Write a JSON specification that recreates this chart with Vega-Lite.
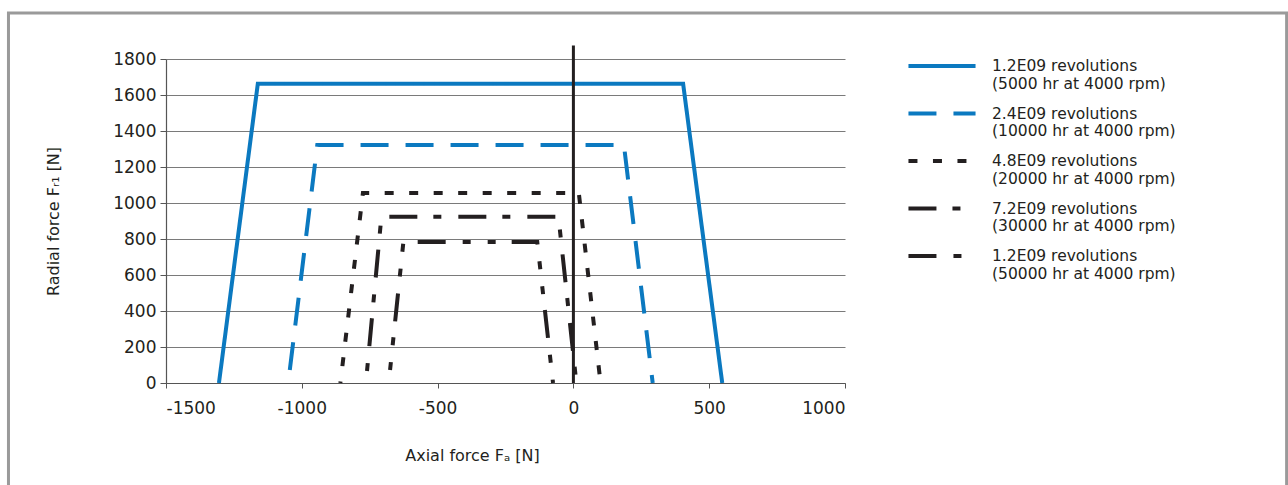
{
  "$schema": "https://vega.github.io/schema/vega-lite/v6.json",
  "width": 679,
  "height": 324,
  "autosize": {"type": "none"},
  "padding": {"left": 166, "top": 59, "right": 443, "bottom": 102},
  "background": "#ffffff",
  "config": {
    "view": {"stroke": null},
    "font": "DejaVu Sans",
    "axis": {
      "labelFont": "DejaVu Sans",
      "titleFont": "DejaVu Sans",
      "labelColor": "#231f20",
      "titleColor": "#231f20",
      "titleFontWeight": "normal",
      "domainColor": "#555555",
      "tickColor": "#555555",
      "gridColor": "#7a7a7a",
      "gridWidth": 1,
      "domainWidth": 1.2
    },
    "legend": {
      "orient": "none",
      "legendX": 740,
      "legendY": -13,
      "padding": 0,
      "symbolType": "stroke",
      "symbolSize": 4500,
      "symbolStrokeWidth": 4,
      "labelFont": "DejaVu Sans",
      "labelFontSize": 15.5,
      "labelLineHeight": 20.5,
      "labelColor": "#231f20",
      "labelOffset": 14,
      "labelLimit": 400,
      "clipHeight": 40,
      "rowPadding": 1.5
    }
  },
  "resolve": {"axis": {"x": "independent", "y": "independent"}},
  "datasets": {
    "curves": [
      {"series": "1.2E09 revolutions\n(5000 hr at 4000 rpm)", "pt": 1, "axial": -1305, "radial": 0},
      {"series": "1.2E09 revolutions\n(5000 hr at 4000 rpm)", "pt": 2, "axial": -1162, "radial": 1662},
      {"series": "1.2E09 revolutions\n(5000 hr at 4000 rpm)", "pt": 3, "axial": 404, "radial": 1662},
      {"series": "1.2E09 revolutions\n(5000 hr at 4000 rpm)", "pt": 4, "axial": 548, "radial": 0},
      {"series": "2.4E09 revolutions\n(10000 hr at 4000 rpm)", "pt": 1, "axial": -1050, "radial": 0},
      {"series": "2.4E09 revolutions\n(10000 hr at 4000 rpm)", "pt": 2, "axial": -943, "radial": 1322},
      {"series": "2.4E09 revolutions\n(10000 hr at 4000 rpm)", "pt": 3, "axial": 186, "radial": 1322},
      {"series": "2.4E09 revolutions\n(10000 hr at 4000 rpm)", "pt": 4, "axial": 292, "radial": 0},
      {"series": "4.8E09 revolutions\n(20000 hr at 4000 rpm)", "pt": 1, "axial": -858, "radial": 0},
      {"series": "4.8E09 revolutions\n(20000 hr at 4000 rpm)", "pt": 2, "axial": -775, "radial": 1055},
      {"series": "4.8E09 revolutions\n(20000 hr at 4000 rpm)", "pt": 3, "axial": 20, "radial": 1055},
      {"series": "4.8E09 revolutions\n(20000 hr at 4000 rpm)", "pt": 4, "axial": 100, "radial": 0},
      {"series": "7.2E09 revolutions\n(30000 hr at 4000 rpm)", "pt": 1, "axial": -764, "radial": 0},
      {"series": "7.2E09 revolutions\n(30000 hr at 4000 rpm)", "pt": 2, "axial": -707, "radial": 924},
      {"series": "7.2E09 revolutions\n(30000 hr at 4000 rpm)", "pt": 3, "axial": -55, "radial": 924},
      {"series": "7.2E09 revolutions\n(30000 hr at 4000 rpm)", "pt": 4, "axial": 11, "radial": 0},
      {"series": "1.2E09 revolutions\n(50000 hr at 4000 rpm)", "pt": 1, "axial": -680, "radial": 0},
      {"series": "1.2E09 revolutions\n(50000 hr at 4000 rpm)", "pt": 2, "axial": -626, "radial": 783},
      {"series": "1.2E09 revolutions\n(50000 hr at 4000 rpm)", "pt": 3, "axial": -133, "radial": 783},
      {"series": "1.2E09 revolutions\n(50000 hr at 4000 rpm)", "pt": 4, "axial": -75, "radial": 0}
    ]
  },
  "layer": [
    {
      "data": {"name": "curves"},
      "mark": {"type": "line", "strokeWidth": 4, "strokeCap": "butt", "strokeJoin": "miter", "strokeDashOffset": 32},
      "encoding": {
        "x": {
          "field": "axial", "type": "quantitative",
          "scale": {"domain": [-1500, 1000], "nice": false, "zero": false},
          "axis": {
            "values": [-1500, -1000, -500, 0, 500, 1000],
            "title": "Axial force Fₐ [N]",
            "titleFontSize": 16,
            "titleX": 306,
            "titleY": 64,
            "titleBaseline": "top",
            "labelFontSize": 17,
            "labelPadding": 12,
            "tickSize": 5,
            "grid": false,
            "labelExpr": "'' + datum.value"
          }
        },
        "y": {
          "field": "radial", "type": "quantitative",
          "scale": {"domain": [0, 1800], "nice": false, "zero": false},
          "axis": {
            "values": [0, 200, 400, 600, 800, 1000, 1200, 1400, 1600, 1800],
            "format": "d",
            "title": "Radial force Fᵣ₁ [N]",
            "titleFontSize": 16,
            "titleX": -113,
            "titleY": 162,
            "titleBaseline": "middle",
            "labelFontSize": 17,
            "labelPadding": 4,
            "tickSize": 6,
            "grid": true
          }
        },
        "order": {"field": "pt"},
        "color": {
          "field": "series", "type": "nominal",
          "scale": {
            "domain": [
              "1.2E09 revolutions\n(5000 hr at 4000 rpm)",
              "2.4E09 revolutions\n(10000 hr at 4000 rpm)",
              "4.8E09 revolutions\n(20000 hr at 4000 rpm)",
              "7.2E09 revolutions\n(30000 hr at 4000 rpm)",
              "1.2E09 revolutions\n(50000 hr at 4000 rpm)"
            ],
            "range": ["#0b79c0", "#0b79c0", "#231f20", "#231f20", "#231f20"]
          },
          "legend": {
            "title": null,
            "labelExpr": "split(datum.label, '\\n')",
            "encode": {
              "symbols": {
                "enter": {"strokeDash": {"signal": "datum.index == 1 ? [29,8] : datum.index == 2 ? [9.5,9] : datum.index == 3 ? [41,16,9,10] : datum.index == 4 ? [33,9,9,6.5,9,40] : [1,0]"}},
                "update": {"strokeDash": {"signal": "datum.index == 1 ? [29,8] : datum.index == 2 ? [9.5,9] : datum.index == 3 ? [41,16,9,10] : datum.index == 4 ? [33,9,9,6.5,9,40] : [1,0]"}}
              }
            }
          }
        },
        "strokeDash": {
          "field": "series", "type": "nominal",
          "scale": {
            "domain": [
              "1.2E09 revolutions\n(5000 hr at 4000 rpm)",
              "2.4E09 revolutions\n(10000 hr at 4000 rpm)",
              "4.8E09 revolutions\n(20000 hr at 4000 rpm)",
              "7.2E09 revolutions\n(30000 hr at 4000 rpm)",
              "1.2E09 revolutions\n(50000 hr at 4000 rpm)"
            ],
            "range": [[1, 0], [28, 17], [9, 15.5], [28, 16, 8, 17], [28, 17, 8, 17, 8, 16]]
          },
          "legend": {
            "title": null,
            "labelExpr": "split(datum.label, '\\n')",
            "encode": {
              "symbols": {
                "enter": {"strokeDash": {"signal": "datum.index == 1 ? [29,8] : datum.index == 2 ? [9.5,9] : datum.index == 3 ? [41,16,9,10] : datum.index == 4 ? [33,9,9,6.5,9,40] : [1,0]"}},
                "update": {"strokeDash": {"signal": "datum.index == 1 ? [29,8] : datum.index == 2 ? [9.5,9] : datum.index == 3 ? [41,16,9,10] : datum.index == 4 ? [33,9,9,6.5,9,40] : [1,0]"}}
              }
            }
          }
        }
      }
    },
    {
      "data": {"values": [{}]},
      "mark": {"type": "rect", "fill": "transparent", "stroke": "#9a9a9a", "strokeWidth": 3, "clip": false},
      "encoding": {
        "x": {"datum": -2080, "type": "quantitative", "axis": null},
        "x2": {"datum": 2626},
        "y": {"datum": 2056, "type": "quantitative", "axis": null},
        "y2": {"datum": -650}
      }
    },
    {
      "data": {"values": [{}]},
      "mark": {"type": "rule", "color": "#231f20", "strokeWidth": 3, "clip": false},
      "encoding": {
        "x": {"datum": 0, "type": "quantitative", "axis": null},
        "y": {"datum": 0, "type": "quantitative", "axis": null},
        "y2": {"datum": 1875}
      }
    }
  ]
}
